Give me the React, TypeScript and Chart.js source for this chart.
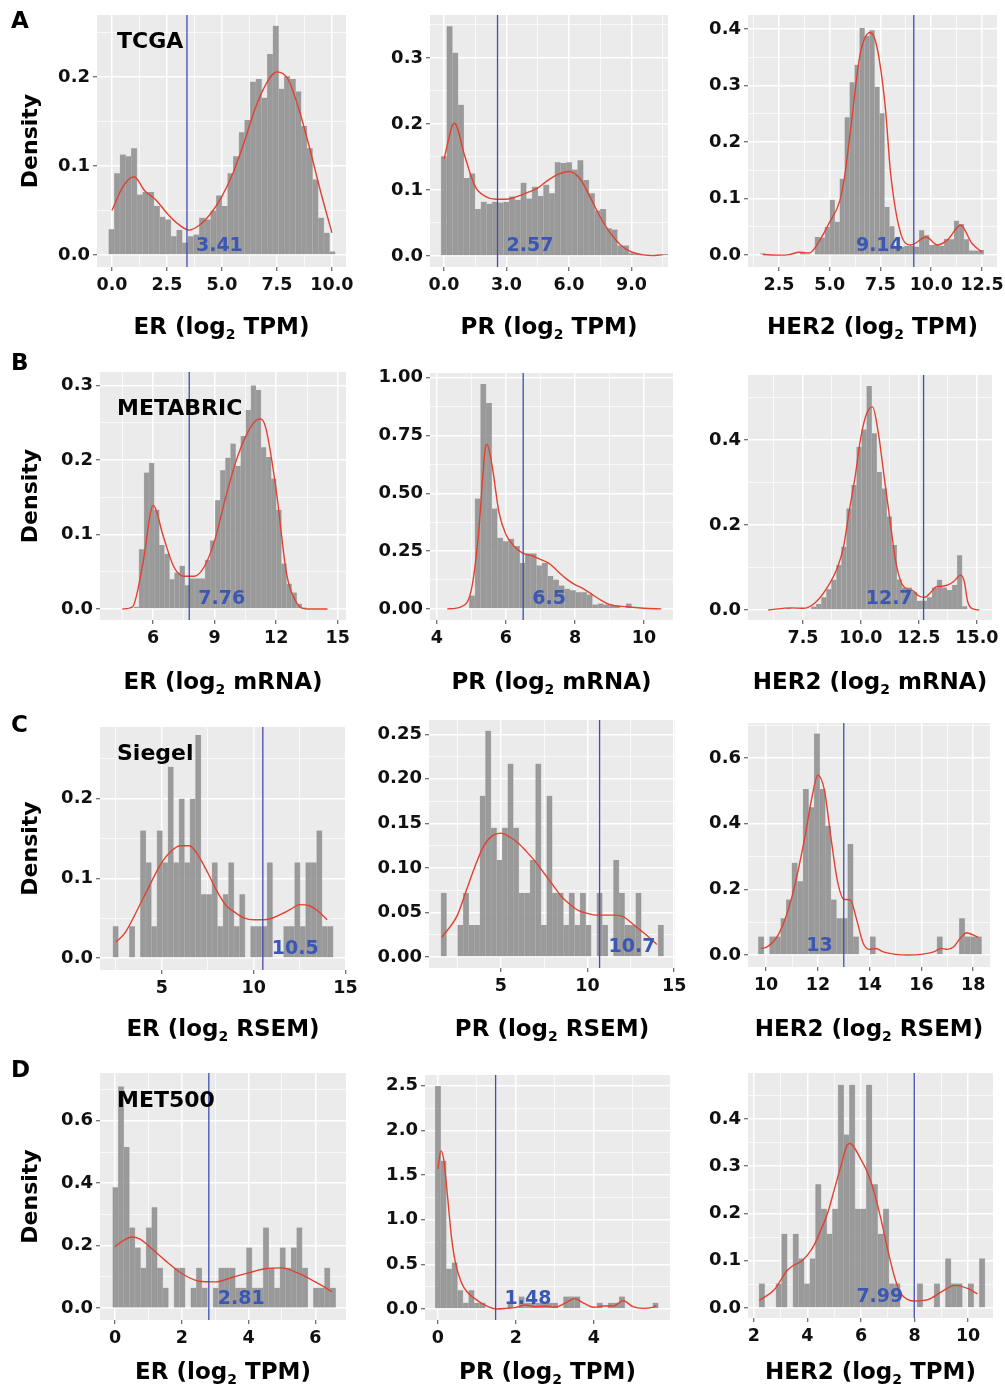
import React, { useEffect, useRef } from 'react';
import { Chart, registerables } from 'chart.js';

Chart.register(...registerables);

const FONT = '"DejaVu Sans", "Liberation Sans", sans-serif';
const PAGE_H = 1391;
const BG = '#ebebeb';
const BAR = 'rgba(145,145,145,0.9)';
const BAR_EDGE = 'rgba(175,175,175,0.9)';
const RED = '#e3412f';
const BLUE = '#3f4fb0';
const BLUE_TEXT = '#3b57b5';

// ---------------- TCGA ----------------
const tcgaErBins = { start: -0.15, width: 0.2575 };
const tcgaErHist = [0.029, 0.092, 0.113, 0.111, 0.120, 0.068, 0.071, 0.071, 0.055, 0.043, 0.040, 0.021, 0.028, 0.014, 0.021, 0.023, 0.042, 0.040, 0.050, 0.067, 0.055, 0.092, 0.111, 0.138, 0.152, 0.195, 0.198, 0.177, 0.226, 0.258, 0.187, 0.201, 0.198, 0.184, 0.145, 0.120, 0.085, 0.042, 0.025, 0.004];
const tcgaErDensX = [0, 0.5, 1.0, 1.5, 2.0, 2.5, 3.0, 3.5, 4.0, 4.5, 5.0, 5.5, 6.0, 6.5, 7.0, 7.5, 8.0, 8.5, 9.0, 9.5, 10.0];
const tcgaErDensY = [0.050, 0.077, 0.088, 0.072, 0.062, 0.047, 0.035, 0.028, 0.034, 0.047, 0.066, 0.092, 0.126, 0.164, 0.192, 0.206, 0.198, 0.164, 0.119, 0.070, 0.025];

const tcgaPrBins = { start: -0.14, width: 0.273 };
const tcgaPrHist = [0.151, 0.348, 0.308, 0.229, 0.118, 0.125, 0.071, 0.082, 0.079, 0.082, 0.081, 0.082, 0.090, 0.085, 0.111, 0.087, 0.105, 0.091, 0.108, 0.095, 0.142, 0.141, 0.142, 0.131, 0.145, 0.115, 0.095, 0.069, 0.071, 0.042, 0.040, 0.016, 0.016, 0.004, 0.003, 0.002, 0.002, 0.001, 0.001, 0.003];
const tcgaPrDensX = [0, 0.5, 1, 1.5, 2, 2.5, 3, 3.5, 4, 4.5, 5, 5.5, 6, 6.5, 7, 7.5, 8, 8.5, 9, 9.5, 10, 10.5];
const tcgaPrDensY = [0.147, 0.201, 0.151, 0.105, 0.090, 0.086, 0.086, 0.090, 0.096, 0.103, 0.115, 0.124, 0.128, 0.118, 0.090, 0.059, 0.034, 0.016, 0.006, 0.002, 0.0005, 0.002];

const tcgaHer2Bins = { start: 1.57, width: 0.245 };
const tcgaHer2Hist = [0.003, 0, 0, 0, 0, 0, 0, 0, 0.006, 0.003, 0, 0.032, 0.031, 0.05, 0.098, 0.059, 0.135, 0.244, 0.306, 0.337, 0.402, 0.388, 0.398, 0.298, 0.251, 0.085, 0.051, 0.015, 0.015, 0.016, 0.016, 0.015, 0.044, 0.035, 0.018, 0.018, 0.016, 0.029, 0.028, 0.061, 0.055, 0.028, 0.008, 0.008, 0.009];
const tcgaHer2DensX = [1.7, 2.5, 3.0, 3.5, 4.0, 4.5, 5.0, 5.5, 5.75, 6.0, 6.5, 7.0, 7.25, 7.5, 7.75, 8.0, 8.5, 9.0, 9.75, 10.3, 10.8, 11.45, 12.0, 12.5];
const tcgaHer2DensY = [0.001, 0.0, 0.001, 0.005, 0.004, 0.026, 0.059, 0.097, 0.144, 0.215, 0.356, 0.394, 0.379, 0.332, 0.256, 0.144, 0.038, 0.018, 0.032, 0.018, 0.027, 0.053, 0.021, 0.005];

// ---------------- METABRIC ----------------
const metabricErBins = { start: 5.06, width: 0.248 };
const metabricErHist = [0.003, 0.080, 0.183, 0.196, 0.133, 0.086, 0.074, 0.040, 0.049, 0.058, 0.032, 0.041, 0.041, 0.041, 0.066, 0.092, 0.146, 0.186, 0.203, 0.222, 0.192, 0.232, 0.267, 0.300, 0.294, 0.217, 0.204, 0.175, 0.133, 0.061, 0.034, 0.022, 0.007, 0.002];
const metabricErDensX = [4.5, 5.0, 5.5, 6.0, 6.5, 7.0, 7.5, 8.0, 8.5, 9.0, 9.5, 10.0, 10.5, 11.0, 11.25, 11.5, 12.0, 12.5, 13.0, 13.5, 14.5];
const metabricErDensY = [0, 0.003, 0.061, 0.139, 0.097, 0.057, 0.044, 0.044, 0.057, 0.092, 0.146, 0.195, 0.231, 0.253, 0.255, 0.242, 0.159, 0.048, 0.008, 0.0, 0.0];

const metabricPrBins = { start: 4.94, width: 0.162 };
const metabricPrHist = [0.058, 0.477, 0.972, 0.890, 0.434, 0.308, 0.293, 0.303, 0.272, 0.199, 0.240, 0.240, 0.188, 0.199, 0.142, 0.127, 0.101, 0.087, 0.081, 0.072, 0.072, 0.062, 0.019, 0.023, 0.019, 0.014, 0.012, 0.004, 0.023];
const metabricPrDensX = [4.3, 4.7, 5.0, 5.2, 5.4, 5.45, 5.6, 5.8, 6.0, 6.25, 6.5, 6.75, 7.0, 7.25, 7.5, 7.75, 8.0, 8.25, 8.5, 8.75, 9.0, 9.5, 10.0, 10.5];
const metabricPrDensY = [0, 0.009, 0.084, 0.315, 0.691, 0.712, 0.618, 0.416, 0.322, 0.269, 0.240, 0.231, 0.214, 0.197, 0.163, 0.130, 0.105, 0.087, 0.062, 0.038, 0.019, 0.009, 0.003, 0];

const metabricHer2Bins = { start: 6.776, width: 0.2168 };
const metabricHer2Hist = [0.005, 0, 0, 0, 0, 0.008, 0.014, 0.030, 0.049, 0.071, 0.106, 0.149, 0.239, 0.294, 0.384, 0.425, 0.527, 0.416, 0.325, 0.286, 0.220, 0.153, 0.072, 0.053, 0.053, 0.043, 0.022, 0.022, 0.030, 0.053, 0.071, 0.053, 0.047, 0.059, 0.129, 0.009];
const metabricHer2DensX = [6.0, 7.0, 7.5, 8.0, 8.5, 9.0, 9.25, 9.5, 9.75, 10.0, 10.25, 10.5, 10.75, 11.0, 11.25, 11.5, 11.75, 12.0, 12.25, 12.5, 12.75, 13.0, 13.25, 13.5, 13.75, 14.0, 14.3, 14.45, 14.6, 14.8, 15.1];
const metabricHer2DensY = [0, 0.005, 0.004, 0.016, 0.049, 0.102, 0.149, 0.235, 0.314, 0.408, 0.463, 0.478, 0.416, 0.314, 0.212, 0.114, 0.063, 0.049, 0.045, 0.033, 0.030, 0.041, 0.055, 0.056, 0.059, 0.067, 0.082, 0.068, 0.020, 0.003, 0];

// ---------------- Siegel ----------------
const siegelErBins = { start: 2.33, width: 0.3 };
const siegelErHist = [0.04, 0, 0, 0.04, 0, 0.16, 0.12, 0.04, 0.16, 0.12, 0.24, 0.12, 0.2, 0.12, 0.2, 0.28, 0.08, 0.08, 0.12, 0.04, 0.08, 0.12, 0.04, 0.08, 0, 0.04, 0.04, 0.04, 0.12, 0, 0, 0.04, 0.04, 0.12, 0.04, 0.12, 0.12, 0.16, 0.04, 0.04];
const siegelErDensX = [2.5, 3.0, 4.0, 5.0, 5.5, 6.0, 6.5, 7.0, 7.5, 8.0, 8.5, 9.0, 9.5, 10.0, 10.5, 11.0, 11.5, 12.0, 12.5, 13.0, 13.5, 14.0];
const siegelErDensY = [0.020, 0.032, 0.076, 0.120, 0.134, 0.141, 0.141, 0.128, 0.107, 0.084, 0.066, 0.057, 0.050, 0.048, 0.048, 0.050, 0.055, 0.061, 0.067, 0.066, 0.059, 0.048];

const siegelPrBins = { start: 1.55, width: 0.321 };
const siegelPrHist = [0.072, 0, 0, 0.036, 0.072, 0.036, 0.036, 0.181, 0.254, 0.145, 0.109, 0.145, 0.217, 0.145, 0.072, 0.072, 0.109, 0.217, 0.036, 0.181, 0.072, 0.072, 0.036, 0.072, 0.036, 0.072, 0.036, 0, 0.072, 0.036, 0, 0.109, 0.072, 0.036, 0.036, 0.072, 0, 0, 0, 0.036];
const siegelPrDensX = [1.6, 2.5, 3.0, 3.5, 4.0, 4.5, 5.0, 5.5, 6.0, 6.5, 7.0, 7.5, 8.0, 8.5, 9.0, 9.5, 10.0, 10.5, 11.0, 11.5, 12.0, 12.5, 13.0, 13.5, 14.0];
const siegelPrDensY = [0.022, 0.047, 0.074, 0.101, 0.124, 0.136, 0.139, 0.135, 0.128, 0.118, 0.107, 0.094, 0.081, 0.068, 0.059, 0.052, 0.049, 0.047, 0.047, 0.047, 0.046, 0.039, 0.031, 0.023, 0.014];

const siegelHer2Bins = { start: 9.70, width: 0.2156 };
const siegelHer2Hist = [0.056, 0, 0.056, 0.056, 0.112, 0.169, 0.281, 0.225, 0.506, 0.45, 0.675, 0.506, 0.394, 0.169, 0.112, 0.112, 0.338, 0.056, 0, 0, 0.056, 0, 0, 0, 0, 0, 0, 0, 0, 0, 0, 0, 0.056, 0, 0, 0, 0.112, 0.056, 0.056, 0.056];
const siegelHer2DensX = [9.8, 10.0, 10.5, 11.0, 11.5, 11.75, 12.0, 12.25, 12.5, 12.75, 13.0, 13.25, 13.5, 13.75, 14.0, 14.25, 14.5, 15.0, 15.5, 16.0, 16.5, 16.75, 17.0, 17.25, 17.5, 17.75, 18.0, 18.2];
const siegelHer2DensY = [0.020, 0.023, 0.066, 0.178, 0.360, 0.472, 0.548, 0.503, 0.360, 0.228, 0.170, 0.168, 0.107, 0.036, 0.017, 0.020, 0.010, 0.002, 0, 0.002, 0.010, 0.020, 0.017, 0.025, 0.051, 0.068, 0.061, 0.053];

// ---------------- MET500 ----------------
const met500ErBins = { start: -0.07, width: 0.167 };
const met500ErHist = [0.387, 0.71, 0.516, 0.258, 0.194, 0.129, 0.258, 0.323, 0.129, 0.065, 0, 0.129, 0.129, 0, 0.065, 0.129, 0.065, 0, 0.065, 0.129, 0.129, 0.129, 0.065, 0.065, 0.194, 0.065, 0.065, 0.258, 0.129, 0.065, 0.194, 0.129, 0.194, 0.258, 0.129, 0, 0.065, 0.065, 0.129, 0.065];
const met500ErDensX = [0, 0.25, 0.5, 0.75, 1.0, 1.5, 2.0, 2.5, 3.0, 3.5, 4.0, 4.5, 5.0, 5.5, 6.0, 6.5];
const met500ErDensY = [0.197, 0.216, 0.228, 0.221, 0.2, 0.153, 0.111, 0.087, 0.084, 0.098, 0.113, 0.126, 0.129, 0.111, 0.084, 0.053];

const met500PrBins = { start: -0.07, width: 0.143 };
const met500PrHist = [2.496, 1.66, 0.45, 0.52, 0.21, 0.07, 0.21, 0.07, 0.07, 0, 0, 0, 0, 0.07, 0, 0.14, 0.07, 0.07, 0.07, 0.07, 0.07, 0.07, 0, 0.14, 0.14, 0.14, 0, 0, 0, 0.07, 0, 0.07, 0.07, 0.14, 0, 0, 0, 0, 0, 0.07];
const met500PrDensX = [0, 0.08, 0.15, 0.25, 0.35, 0.45, 0.6, 0.75, 1.0, 1.25, 1.5, 1.75, 2.0, 2.25, 2.5, 2.75, 3.0, 3.25, 3.5, 3.75, 4.0, 4.25, 4.5, 4.75, 5.0, 5.25, 5.5, 5.6];
const met500PrDensY = [1.57, 1.77, 1.67, 1.25, 0.80, 0.52, 0.30, 0.19, 0.10, 0.034, 0.0, 0.007, 0.019, 0.045, 0.026, 0.034, 0.02, 0.063, 0.116, 0.063, 0.02, 0.034, 0.034, 0.093, 0.026, 0.007, 0.019, 0.037];

const met500Her2Bins = { start: 2.19, width: 0.211 };
const met500Her2Hist = [0.052, 0, 0, 0.052, 0.157, 0, 0.157, 0.105, 0.052, 0.105, 0.262, 0.21, 0.157, 0.21, 0.472, 0.367, 0.472, 0.21, 0.21, 0.472, 0.262, 0.157, 0.21, 0.052, 0.052, 0, 0, 0, 0.052, 0, 0, 0.052, 0, 0.105, 0.052, 0.052, 0, 0.052, 0, 0.105];
const met500Her2DensX = [2.2, 2.75, 3.25, 3.5, 3.75, 4.0, 4.25, 4.5, 4.75, 5.0, 5.25, 5.5, 5.6, 5.75, 6.0, 6.25, 6.5, 6.75, 7.0, 7.25, 7.5, 7.75, 8.0, 8.5, 9.0, 9.5, 10.0, 10.35];
const met500Her2DensY = [0.016, 0.038, 0.080, 0.091, 0.098, 0.112, 0.133, 0.165, 0.2, 0.25, 0.30, 0.346, 0.348, 0.339, 0.314, 0.286, 0.243, 0.187, 0.123, 0.066, 0.030, 0.018, 0.015, 0.018, 0.034, 0.048, 0.041, 0.030];

// ---------------- thresholds & ticks ----------------
const cutValues = [3.41, 2.57, 9.14, 7.76, 6.5, 12.7, 10.5, 10.7, 13.0, 2.81, 1.48, 7.99];
const cutLabels = ['3.41', '2.57', '9.14', '7.76', '6.5', '12.7', '10.5', '10.7', '13', '2.81', '1.48', '7.99'];

const xTicksA1 = [0, 2.5, 5, 7.5, 10];
const xTicksA2 = [0, 3, 6, 9];
const xTicksA3 = [2.5, 5, 7.5, 10, 12.5];
const xTicksB1 = [6, 9, 12, 15];
const xTicksB2 = [4, 6, 8, 10];
const xTicksB3 = [7.5, 10, 12.5, 15];
const xTicksC1 = [5, 10, 15];
const xTicksC2 = [5, 10, 15];
const xTicksC3 = [10, 12, 14, 16, 18];
const xTicksD1 = [0, 2, 4, 6];
const xTicksD2 = [0, 2, 4];
const xTicksD3 = [2, 4, 6, 8, 10];

const yTicksA1 = [0, 0.1, 0.2];
const yTicksA2 = [0, 0.1, 0.2, 0.3];
const yTicksA3 = [0, 0.1, 0.2, 0.3, 0.4];
const yTicksB1 = [0, 0.1, 0.2, 0.3];
const yTicksB2 = [0, 0.25, 0.5, 0.75, 1.0];
const yTicksB3 = [0, 0.2, 0.4];
const yTicksC1 = [0, 0.1, 0.2];
const yTicksC2 = [0, 0.05, 0.1, 0.15, 0.2, 0.25];
const yTicksC3 = [0, 0.2, 0.4, 0.6];
const yTicksD1 = [0, 0.2, 0.4, 0.6];
const yTicksD2 = [0, 0.5, 1.0, 1.5, 2.0, 2.5];
const yTicksD3 = [0, 0.1, 0.2, 0.3, 0.4];

const genes = ['ER', 'PR', 'HER2'];
const units = ['TPM', 'mRNA', 'RSEM', 'TPM'];
const cohorts = ['TCGA', 'METABRIC', 'Siegel', 'MET500'];
const letters = ['A', 'B', 'C', 'D'];

// ---------------- layout (page pixels) ----------------
const colCanvas = [[0, 366], [330, 690], [660, 1005]];
const rowCanvasTop = [0, 340, 690, 1040];
const rowTitleBaseline = [334, 689, 1036, 1379];
const letterBaseline = [28, 370, 732, 1077];
const cohortBaseline = [48, 415, 760, 1107];

type Panel = {
  row: number; col: number;
  rect: [number, number, number, number];
  xr: [number, number]; yr: [number, number];
  bins: { start: number; width: number }; hist: number[];
  dx: number[]; dy: number[];
  xT: number[]; yT: number[]; xd: number; yd: number;
  side: 'left' | 'right';
};

const panels: Panel[] = [
  { row: 0, col: 0, rect: [97, 15, 346, 267], xr: [-0.68, 10.64], yr: [-0.0135, 0.27], bins: tcgaErBins, hist: tcgaErHist, dx: tcgaErDensX, dy: tcgaErDensY, xT: xTicksA1, yT: yTicksA1, xd: 1, yd: 1, side: 'right' },
  { row: 0, col: 1, rect: [430, 15, 668, 267], xr: [-0.67, 10.75], yr: [-0.0167, 0.365], bins: tcgaPrBins, hist: tcgaPrHist, dx: tcgaPrDensX, dy: tcgaPrDensY, xT: xTicksA2, yT: yTicksA2, xd: 1, yd: 1, side: 'right' },
  { row: 0, col: 2, rect: [748, 15, 997, 267], xr: [0.97, 13.24], yr: [-0.021, 0.425], bins: tcgaHer2Bins, hist: tcgaHer2Hist, dx: tcgaHer2DensX, dy: tcgaHer2DensY, xT: xTicksA3, yT: yTicksA3, xd: 1, yd: 1, side: 'left' },
  { row: 1, col: 0, rect: [100, 372, 346, 620], xr: [3.41, 15.4], yr: [-0.0148, 0.318], bins: metabricErBins, hist: metabricErHist, dx: metabricErDensX, dy: metabricErDensY, xT: xTicksB1, yT: yTicksB1, xd: 0, yd: 1, side: 'right' },
  { row: 1, col: 1, rect: [430, 373, 673, 620], xr: [3.8, 10.84], yr: [-0.048, 1.02], bins: metabricPrBins, hist: metabricPrHist, dx: metabricPrDensX, dy: metabricPrDensY, xT: xTicksB2, yT: yTicksB2, xd: 0, yd: 2, side: 'right' },
  { row: 1, col: 2, rect: [748, 375, 992, 620], xr: [5.13, 15.65], yr: [-0.0235, 0.553], bins: metabricHer2Bins, hist: metabricHer2Hist, dx: metabricHer2DensX, dy: metabricHer2DensY, xT: xTicksB3, yT: yTicksB3, xd: 1, yd: 1, side: 'left' },
  { row: 2, col: 0, rect: [100, 727, 346, 970], xr: [1.63, 15.03], yr: [-0.015, 0.29], bins: siegelErBins, hist: siegelErHist, dx: siegelErDensX, dy: siegelErDensY, xT: xTicksC1, yT: yTicksC1, xd: 0, yd: 1, side: 'right' },
  { row: 2, col: 1, rect: [429, 720, 675, 968], xr: [0.86, 15.05], yr: [-0.0123, 0.266], bins: siegelPrBins, hist: siegelPrHist, dx: siegelPrDensX, dy: siegelPrDensY, xT: xTicksC2, yT: yTicksC2, xd: 0, yd: 2, side: 'right' },
  { row: 2, col: 2, rect: [748, 723, 990, 967], xr: [9.3, 18.65], yr: [-0.0366, 0.707], bins: siegelHer2Bins, hist: siegelHer2Hist, dx: siegelHer2DensX, dy: siegelHer2DensY, xT: xTicksC3, yT: yTicksC3, xd: 0, yd: 1, side: 'left' },
  { row: 3, col: 0, rect: [100, 1073, 346, 1320], xr: [-0.45, 6.92], yr: [-0.038, 0.753], bins: met500ErBins, hist: met500ErHist, dx: met500ErDensX, dy: met500ErDensY, xT: xTicksD1, yT: yTicksD1, xd: 0, yd: 1, side: 'right' },
  { row: 3, col: 1, rect: [425, 1075, 670, 1320], xr: [-0.33, 5.95], yr: [-0.123, 2.62], bins: met500PrBins, hist: met500PrHist, dx: met500PrDensX, dy: met500PrDensY, xT: xTicksD2, yT: yTicksD2, xd: 0, yd: 1, side: 'right' },
  { row: 3, col: 2, rect: [748, 1073, 993, 1318], xr: [1.78, 10.93], yr: [-0.021, 0.497], bins: met500Her2Bins, hist: met500Her2Hist, dx: met500Her2DensX, dy: met500Her2DensY, xT: xTicksD3, yT: yTicksD3, xd: 0, yd: 1, side: 'left' },
];

function withMinor(majors: number[], range: [number, number]): number[] {
  const step = majors[1] - majors[0];
  const out: number[] = [];
  for (let k = -60; k <= 120; k++) {
    const v = majors[0] + (k * step) / 2;
    if (v >= range[0] - 1e-9 && v <= range[1] + 1e-9) out.push(+v.toFixed(6));
  }
  return out;
}

function isMajorVal(majors: number[], v: number): boolean {
  const step = majors[1] - majors[0];
  const q = (v - majors[0]) / step;
  return Math.abs(q - Math.round(q)) < 1e-6;
}

function PanelChart({ p, idx }: { p: Panel; idx: number }) {
  const ref = useRef<HTMLCanvasElement | null>(null);
  const [L, T, R, B] = p.rect;
  const cLeft = colCanvas[p.col][0];
  const cRight = colCanvas[p.col][1];
  const cTop = rowCanvasTop[p.row];
  const cBottom = Math.min(B + 76, PAGE_H);
  const cw = cRight - cLeft;
  const ch = cBottom - cTop;

  useEffect(() => {
    const canvas = ref.current;
    if (!canvas) return;
    const padL = L - cLeft;
    const padT = T - cTop;
    const padR = cRight - R;
    const padB = cBottom - B;
    const xTicks = withMinor(p.xT, p.xr);
    const yTicks = withMinor(p.yT, p.yr);
    const cut = cutValues[idx];

    const histData = p.hist.map((h, i) => ({ x: p.bins.start + (i + 0.5) * p.bins.width, y: h }));
    const densData = p.dx.map((x, i) => ({ x, y: p.dy[i] }));
    const cutData = [{ x: cut, y: p.yr[0] }, { x: cut, y: p.yr[1] }];

    const bgPlugin = {
      id: 'panelBg',
      beforeDraw(chart: any) {
        const { ctx, chartArea: a } = chart;
        ctx.save();
        ctx.fillStyle = BG;
        ctx.fillRect(a.left, a.top, a.right - a.left, a.bottom - a.top);
        ctx.restore();
      },
    };

    const textPlugin = {
      id: 'panelText',
      afterDraw(chart: any) {
        const { ctx, chartArea: a } = chart;
        const px = chart.scales.x.getPixelForValue(cut);
        ctx.save();
        ctx.font = `bold 19px ${FONT}`;
        ctx.fillStyle = BLUE_TEXT;
        ctx.textBaseline = 'alphabetic';
        if (p.side === 'right') {
          ctx.textAlign = 'left';
          ctx.fillText(cutLabels[idx], px + 9, a.bottom - 16);
        } else {
          ctx.textAlign = 'right';
          ctx.fillText(cutLabels[idx], px - 11, a.bottom - 16);
        }
        ctx.fillStyle = '#000000';
        if (p.col === 0) {
          ctx.font = `bold 23px ${FONT}`;
          ctx.textAlign = 'left';
          ctx.fillText(letters[p.row], 11 - cLeft, letterBaseline[p.row] - cTop);
          ctx.font = `bold 22px ${FONT}`;
          ctx.fillText(cohorts[p.row], 117 - cLeft, cohortBaseline[p.row] - cTop);
          ctx.save();
          ctx.translate(31 - cLeft, (a.top + a.bottom) / 2);
          ctx.rotate(-Math.PI / 2);
          ctx.textAlign = 'center';
          ctx.textBaseline = 'middle';
          ctx.font = `bold 22px ${FONT}`;
          ctx.fillText('Density', 0, 0);
          ctx.restore();
        }
        const part1 = `${genes[p.col]} (log`;
        const part2 = '2';
        const part3 = ` ${units[p.row]})`;
        const mainFont = `bold 23px ${FONT}`;
        const subFont = `bold 14px ${FONT}`;
        ctx.font = mainFont;
        const w1 = ctx.measureText(part1).width;
        const w3 = ctx.measureText(part3).width;
        ctx.font = subFont;
        const w2 = ctx.measureText(part2).width;
        const total = w1 + w2 + w3;
        const cx = (a.left + a.right) / 2;
        const by = rowTitleBaseline[p.row] - cTop;
        let x0 = cx - total / 2;
        ctx.textAlign = 'left';
        ctx.textBaseline = 'alphabetic';
        ctx.font = mainFont;
        ctx.fillText(part1, x0, by);
        x0 += w1;
        ctx.font = subFont;
        ctx.fillText(part2, x0, by + 5);
        x0 += w2;
        ctx.font = mainFont;
        ctx.fillText(part3, x0, by);
        ctx.restore();
      },
    };

    const gridFor = (majors: number[]) => ({
      display: true,
      drawOnChartArea: true,
      drawTicks: true,
      offset: false,
      tickLength: 4,
      color: '#ffffff',
      lineWidth: (c: any) => (c.tick && isMajorVal(majors, c.tick.value) ? 1.5 : 0.7),
      tickColor: (c: any) => (c.tick && isMajorVal(majors, c.tick.value) ? '#444444' : 'rgba(0,0,0,0)'),
      tickWidth: 1,
    });

    const chart = new Chart(canvas, {
      type: 'bar',
      data: {
        datasets: [
          { type: 'bar', data: histData, backgroundColor: BAR, borderColor: BAR_EDGE, borderWidth: { left: 0.6, right: 0.6, top: 0, bottom: 0 }, borderSkipped: 'start', barPercentage: 1, categoryPercentage: 1, order: 3 } as any,
          { type: 'line', data: densData, borderColor: RED, borderWidth: 1.4, pointRadius: 0, cubicInterpolationMode: 'monotone', fill: false, order: 2 } as any,
          { type: 'line', data: cutData, borderColor: BLUE, borderWidth: 1.3, pointRadius: 0, tension: 0, fill: false, order: 1 } as any,
        ],
      },
      options: {
        responsive: false,
        animation: false,
        events: [],
        layout: { padding: { left: 0, top: padT, right: padR, bottom: 0 } },
        plugins: { legend: { display: false }, tooltip: { enabled: false }, title: { display: false } },
        scales: {
          x: {
            type: 'linear',
            position: 'bottom',
            min: p.xr[0],
            max: p.xr[1],
            offset: false,
            afterBuildTicks: (s: any) => { s.ticks = xTicks.map((v) => ({ value: v })); },
            afterFit: (s: any) => { s.height = padB; s.paddingLeft = 0; s.paddingRight = 0; s.paddingTop = 0; s.paddingBottom = 0; },
            ticks: {
              autoSkip: false,
              maxRotation: 0,
              minRotation: 0,
              padding: 4,
              color: '#111111',
              font: { family: FONT, weight: 'bold', size: 17.5 },
              callback: (v: any) => (isMajorVal(p.xT, Number(v)) ? Number(v).toFixed(p.xd) : ''),
            },
            grid: gridFor(p.xT),
            border: { display: false },
          },
          y: {
            type: 'linear',
            position: 'left',
            min: p.yr[0],
            max: p.yr[1],
            afterBuildTicks: (s: any) => { s.ticks = yTicks.map((v) => ({ value: v })); },
            afterFit: (s: any) => { s.width = padL; s.paddingLeft = 0; s.paddingRight = 0; s.paddingTop = 0; s.paddingBottom = 0; },
            ticks: {
              autoSkip: false,
              padding: 3,
              color: '#111111',
              font: { family: FONT, weight: 'bold', size: 18 },
              callback: (v: any) => (isMajorVal(p.yT, Number(v)) ? Number(v).toFixed(p.yd) : ''),
            },
            grid: gridFor(p.yT),
            border: { display: false },
          },
        },
      } as any,
      plugins: [bgPlugin, textPlugin],
    });
    return () => chart.destroy();
  }, []);

  return (
    <canvas
      ref={ref}
      width={cw}
      height={ch}
      style={{ position: 'absolute', left: cLeft, top: cTop, width: cw, height: ch }}
    />
  );
}

export default function App() {
  return (
    <div style={{ position: 'absolute', left: 0, top: 0, width: 1005, height: PAGE_H, background: '#ffffff', overflow: 'hidden' }}>
      {panels.map((p, i) => (
        <PanelChart key={i} p={p} idx={i} />
      ))}
    </div>
  );
}
